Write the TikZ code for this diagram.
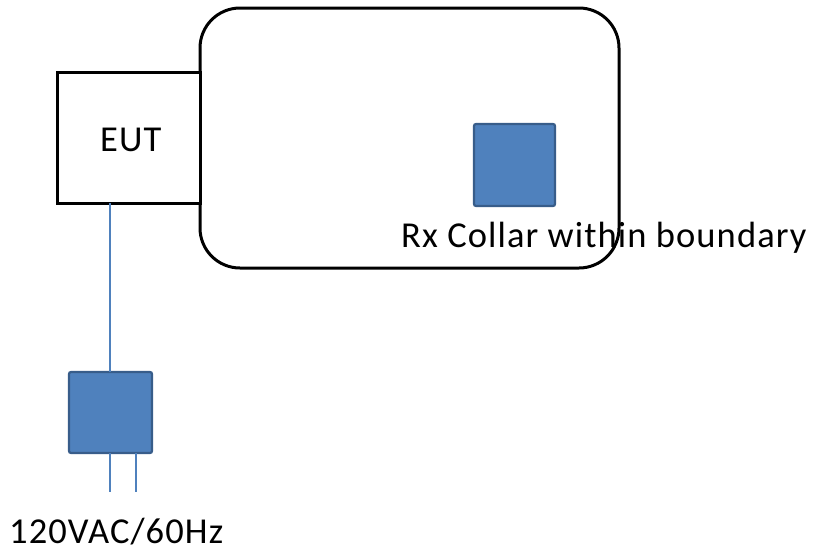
\documentclass[tikz,border=0pt]{standalone}
\usepackage{fontspec}
\setmainfont{Carlito}[LetterSpace=3.0]
\definecolor{boxblue}{HTML}{4F81BD}
\definecolor{boxedge}{HTML}{385D8A}
\begin{document}
\begin{tikzpicture}[x=1pt,y=-1pt,
  frame/.style={draw=black,line width=3pt,inner sep=0pt,outer sep=0pt},
  bluebox/.style={draw=boxedge,fill=boxblue,line width=2.2pt,rounded corners=2pt,inner sep=0pt,outer sep=0pt},
  wire/.style={draw=boxblue,line width=1.1pt},
  lbl/.style={inner sep=0pt,anchor=base west,font=\fontsize{36.5}{40}\selectfont}]
\useasboundingbox[fill=white] (0,0) rectangle (817,552);
\node[frame,rounded corners=40pt,minimum width=419pt,minimum height=260pt] (bound) at (409.5,138) {};
\node[frame,fill=white,minimum width=143pt,minimum height=131pt] (eut) at (128.5,137.5) {};
\node[lbl] (eutlbl) at (100,151) {EUT};
\node[lbl] (rxlbl) at (401,247) {Rx Collar within boundary};
\node[bluebox,minimum width=81pt,minimum height=82pt] (rx) at (514.5,165) {};
\node[bluebox,minimum width=83pt,minimum height=81pt] (plug) at (110.5,412.5) {};
\coordinate (p1) at (110,492);
\coordinate (p2) at (136,492);
\draw[wire] (eut.south -| p1) -- (plug.north -| p1);
\draw[wire] (plug.south -| p1) -- (p1);
\draw[wire] (plug.south -| p2) -- (p2);
\node[lbl] (aclbl) at (9,543) {120VAC/60Hz};
\end{tikzpicture}
\end{document}
